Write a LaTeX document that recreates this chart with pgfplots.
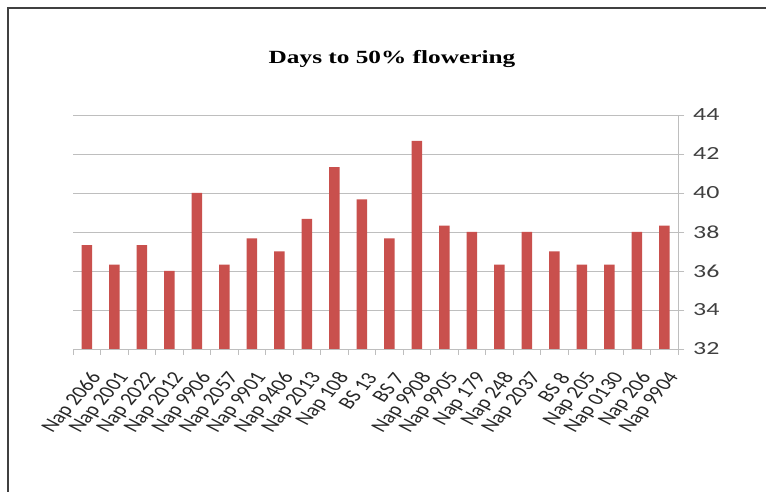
\documentclass[border=0pt]{standalone}
\usepackage{fontspec}
\setmainfont{Carlito}
\newfontfamily\titlefont{Liberation Serif}
\usepackage{pgfplots}
\pgfplotsset{compat=1.18}
\definecolor{barred}{HTML}{C9504D}
\definecolor{gridgray}{HTML}{BEBEBE}
\begin{document}
\begin{tikzpicture}
\useasboundingbox (0pt,0pt) rectangle (766pt,492pt);
\fill[white] (0pt,0pt) rectangle (766pt,492pt);
\draw[line width=1.5pt, black!75] (8pt,0pt) -- (8pt,484pt) -- (766pt,484pt);
\node[xscale=1.36, font=\titlefont\bfseries\fontsize{18.6}{22}\selectfont] at (392pt,433pt) {Days to 50\% flowering};
\begin{axis}[
  at={(73pt,143pt)}, anchor=south west,
  scale only axis, width=605pt, height=234pt,
  xmin=-0.5, xmax=21.5, ymin=32, ymax=44,
  ytick={32,34,...,44},
  axis y line*=right,
  axis x line*=bottom,
  axis line style={gridgray, line width=0.8pt},
  ymajorgrids, grid style={gridgray, line width=0.8pt},
  xtick={0,...,21},
  xticklabels={Nap 2066,Nap 2001,Nap 2022,Nap 2012,Nap 9906,Nap 2057,Nap 9901,Nap 9406,Nap 2013,Nap 108,BS 13,BS 7,Nap 9908,Nap 9905,Nap 179,Nap 248,Nap 2037,BS 8,Nap 205,Nap 0130,Nap 206,Nap 9904},
  major x tick style={draw=none},
  minor xtick={-0.5,0.5,...,21.5},
  minor x tick style={gridgray, line width=0.8pt},
  minor tick length=6pt,
  major tick length=6pt,
  y tick style={gridgray, line width=0.8pt},
  tick align=outside,
  x tick label style={xshift=11pt, yshift=-19pt, cm={0.72,0.82,-1.1,0.57,(0,0)}, anchor=east, font=\fontsize{17.5}{20}\selectfont, text=black!85, inner sep=1pt},
  y tick label style={xscale=1.4, anchor=west, font=\fontsize{18.5}{20}\selectfont, text=black!75, xshift=3pt},
  /pgf/number format/assume math mode=true,
  ybar, bar width=10.5pt,
  clip=false,
]
\addplot[fill=barred, draw=none] coordinates {
(0,37.33) (1,36.33) (2,37.33) (3,36) (4,40) (5,36.33) (6,37.67) (7,37) (8,38.67) (9,41.33) (10,39.67)
(11,37.67) (12,42.67) (13,38.33) (14,38) (15,36.33) (16,38) (17,37) (18,36.33) (19,36.33) (20,38) (21,38.33)
};
\end{axis}
\end{tikzpicture}
\end{document}
